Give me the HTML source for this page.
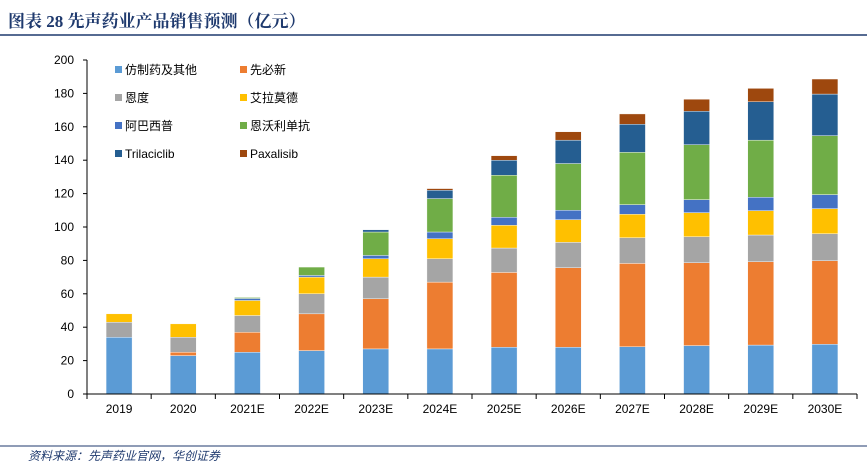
<!DOCTYPE html>
<html><head><meta charset="utf-8"><style>
body{margin:0;background:#fff;width:867px;height:464px;overflow:hidden;font-family:"Liberation Sans","Noto Sans CJK SC",sans-serif;}
</style></head><body>
<svg id="c" width="867" height="464" xmlns="http://www.w3.org/2000/svg">
<text x="8" y="27" font-size="17" font-weight="bold" fill="#1f3a6e" font-family="Liberation Serif,'Noto Serif CJK SC',serif">图表 28  先声药业产品销售预测（亿元）</text>
<line x1="0" y1="35" x2="867" y2="35" stroke="#1f3a6e" stroke-width="1.5"/>
<line x1="0" y1="446" x2="867" y2="446" stroke="#1f3a6e" stroke-width="1"/>
<text x="28" y="460" font-size="12" font-style="italic" fill="#1f3a6e">资料来源：先声药业官网，华创证券</text>
<g id="plot"></g>
</svg>
<script>
const categories=["2019","2020","2021E","2022E","2023E","2024E","2025E","2026E","2027E","2028E","2029E","2030E"];
const seriesNames=["仿制药及其他","先必新","恩度","艾拉莫德","阿巴西普","恩沃利单抗","Trilaciclib","Paxalisib"];
const colors=["#5b9bd5","#ed7d31","#a5a5a5","#ffc000","#4472c4","#70ad47","#255e91","#9e480e"];
const s0=[34,23,25,26,27,27,28,28,28.3,29,29.3,29.8];
const s1=[0,2,12,22,30,40,44.8,47.6,49.9,49.6,49.9,50];
const s2=[9,9,10,12,13,14,14.6,15.2,15.4,15.6,16,16.2];
const s3=[5,8,9,10,11,12,13.6,13.6,14,14.4,14.6,15];
const s4=[0,0,1.2,1,2,4,4.8,5.6,5.8,7.8,8,8.4];
const s5=[0,0,0.6,5,14,20,25.2,28,31.3,32.9,34.2,35.3];
const s6=[0,0,0,0,1.3,5,9,14,16.8,20,23,24.9];
const s7=[0,0,0,0,0,1,2.7,5,6.2,7.2,8,9];
const yTicks=[0,20,40,60,80,100,120,140,160,180,200];
const series=[s0,s1,s2,s3,s4,s5,s6,s7];
const NS="http://www.w3.org/2000/svg";
const g=document.getElementById('plot');
const x0=87,x1=857,yb=394,yt=60,ymax=200;
const step=(x1-x0)/categories.length,bw=26;
const y=v=>yb-(v/ymax)*(yb-yt);
const cx=i=>x0+step*(i+0.5);
function mk(t,a){const e=document.createElementNS(NS,t);for(const k in a)e.setAttribute(k,a[k]);g.appendChild(e);return e;}
yTicks.forEach(v=>{
 const t=mk('text',{x:74,y:y(v)+4,'font-size':12,'text-anchor':'end',fill:'#000'});t.textContent=v;
 
 
 const l=mk('line',{x1:x0-4,x2:x0,y1:y(v),y2:y(v),stroke:'#000'});
 
 
});
categories.forEach((c,i)=>{
 let acc=0;
 series.forEach((s,k)=>{
  const v=s[i]; if(v<=0) return;
  const r=mk('rect',{x:cx(i)-bw/2,y:y(acc+v),width:bw,height:y(acc)-y(acc+v),fill:colors[k],stroke:'#fff','stroke-width':0.4});
  
  
  acc+=v;
 });
 const t=mk('text',{x:cx(i),y:413,'font-size':12,'text-anchor':'middle',fill:'#000'});t.textContent=c;
 
 
});
for(let i=0;i<=categories.length;i++){
 const l=mk('line',{x1:x0+step*i,x2:x0+step*i,y1:yb,y2:yb+5,stroke:'#000'});
 
 
}
const ax=mk('line',{x1:x0,x2:x0,y1:yt,y2:yb,stroke:'#000'});


const bx=mk('line',{x1:x0,x2:x1,y1:yb,y2:yb,stroke:'#000'});


seriesNames.forEach((n,k)=>{
 const lx=k%2===0?115:240, ly=70+Math.floor(k/2)*28;
 const r=mk('rect',{x:lx,y:ly-4,width:7,height:7,fill:colors[k]});
 
 
 const t=mk('text',{x:lx+10,y:ly+4,'font-size':12,fill:'#000'});t.textContent=n;
 
 
});
</script>
</body></html>
